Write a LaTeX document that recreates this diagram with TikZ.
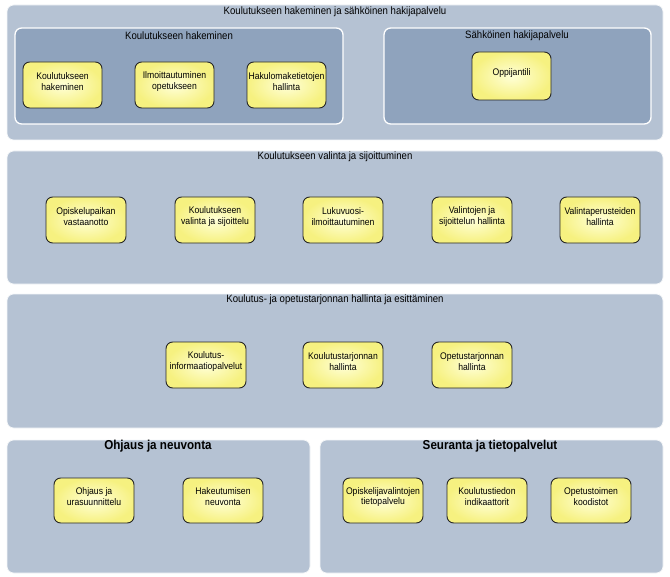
\documentclass[tikz,border=0pt]{standalone}
\usepackage{fontspec}
\setmainfont[FakeStretch=0.9]{Liberation Sans}
\usetikzlibrary{fit,shadows}
\definecolor{outerfill}{HTML}{B5C2D3}
\definecolor{innerfill}{HTML}{8FA3BD}
\definecolor{yin}{HTML}{FFFFD8}
\definecolor{yout}{HTML}{F6F180}
\tikzset{
  panel/.style={draw=white!85!outerfill, line width=0.6pt, fill=outerfill, rounded corners=5pt, inner sep=0pt},
  subpanel/.style={draw=white, line width=1pt, fill=innerfill, rounded corners=5pt, inner sep=0pt},
  unit/.style={draw=black!85, line width=0.7pt, rounded corners=5pt, inner sep=0pt,
    inner color=yin, outer color=yout, align=center, font=\fontsize{7.2}{8.2}\selectfont},
  ptitle/.style={font=\fontsize{8}{9}\selectfont, inner sep=0pt},
  btitle/.style={font=\fontsize{9.7}{11}\selectfont\bfseries, inner sep=0pt}
}
\begin{document}
\begin{tikzpicture}[x=0.75pt,y=-0.75pt]
\useasboundingbox (0,0) rectangle (670,577);
% panel 1
\node[panel, fit={(7,5) (663,140)}] (p1) {};
\node[ptitle] (t1) at (335,12) {Koulutukseen hakeminen ja sähköinen hakijapalvelu};
\node[subpanel, fit={(15,28) (343,124)}] (s1) {};
\node[ptitle] (ts1) at (179,36) {Koulutukseen hakeminen};
\node[subpanel, fit={(384,28) (651,124)}] (s2) {};
\node[ptitle] (ts2) at (517,36) {Sähköinen hakijapalvelu};
\node[unit, fit={(23,62) (102,108)}] (a1) {Koulutukseen\\hakeminen};
\node[unit, fit={(135,62) (214,108)}] (a2) {Ilmoittautuminen\\opetukseen};
\node[unit, fit={(247,62) (326,108)}] (a3) {Hakulomaketietojen\\hallinta};
\node[unit, fit={(472,52) (551,100)}] (a4) {Oppijantili};
% panel 2
\node[panel, fit={(7,151) (663,284)}] (p2) {};
\node[ptitle] (t2) at (335,157) {Koulutukseen valinta ja sijoittuminen};
\node[unit, fit={(46,197) (126,243)}] (b1) {Opiskelupaikan\\vastaanotto};
\node[unit, fit={(175,197) (255,243)}] (b2) {Koulutukseen\\valinta ja sijoittelu};
\node[unit, fit={(303,197) (383,243)}] (b3) {Lukuvuosi-\\ilmoittautuminen};
\node[unit, fit={(432,197) (512,243)}] (b4) {Valintojen ja\\sijoittelun hallinta};
\node[unit, fit={(560,197) (640,243)}] (b5) {Valintaperusteiden\\hallinta};
% panel 3
\node[panel, fit={(7,294) (663,428)}] (p3) {};
\node[ptitle] (t3) at (335,300) {Koulutus- ja opetustarjonnan hallinta ja esittäminen};
\node[unit, fit={(166,342) (246,388)}] (c1) {Koulutus-\\informaatiopalvelut};
\node[unit, fit={(303,342) (383,388)}] (c2) {Koulutustarjonnan\\hallinta};
\node[unit, fit={(432,342) (512,388)}] (c3) {Opetustarjonnan\\hallinta};
% panel 4
\node[panel, fit={(7,440) (310,573)}] (p4) {};
\node[btitle] (t4) at (158,446) {Ohjaus ja neuvonta};
\node[unit, fit={(54,478) (134,523)}] (d1) {Ohjaus ja\\urasuunnittelu};
\node[unit, fit={(183,478) (263,523)}] (d2) {Hakeutumisen\\neuvonta};
% panel 5
\node[panel, fit={(320,440) (663,573)}] (p5) {};
\node[btitle] (t5) at (490,446) {Seuranta ja tietopalvelut};
\node[unit, fit={(343,478) (423,523)}] (e1) {Opiskelijavalintojen\\tietopalvelu};
\node[unit, fit={(447,478) (527,523)}] (e2) {Koulutustiedon\\indikaattorit};
\node[unit, fit={(551,478) (631,523)}] (e3) {Opetustoimen\\koodistot};
\end{tikzpicture}
\end{document}
